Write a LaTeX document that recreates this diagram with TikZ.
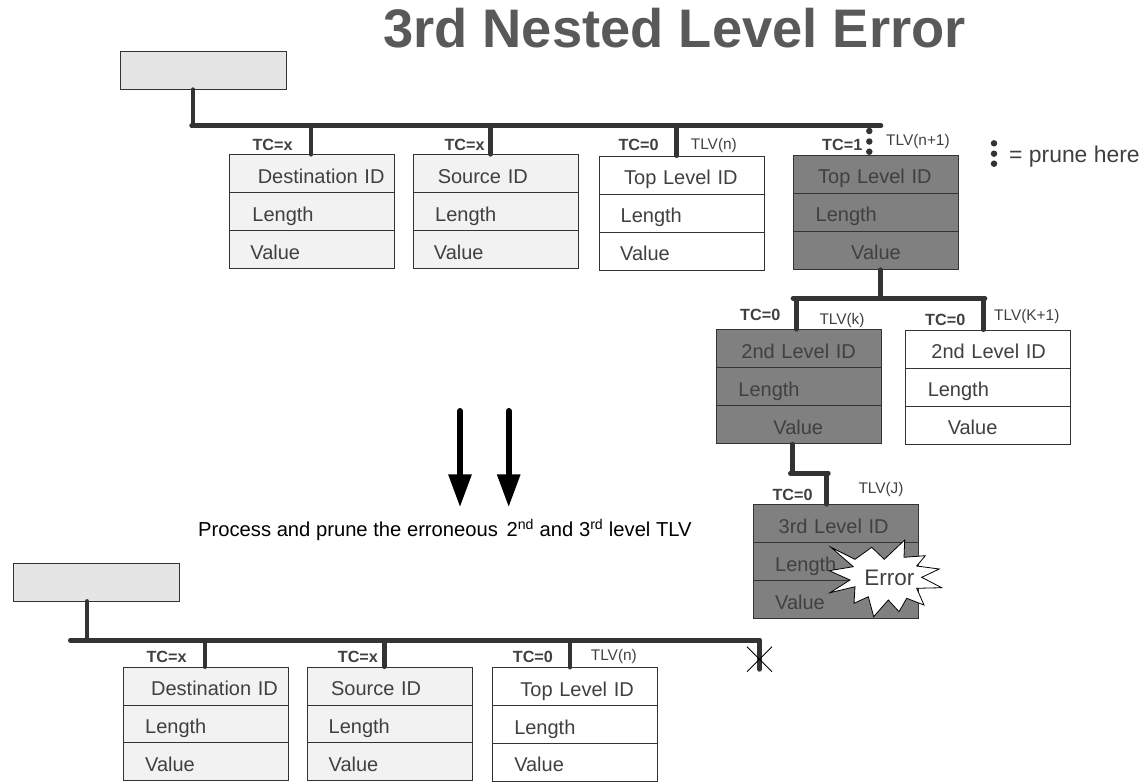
\documentclass[tikz,border=0pt]{standalone}
\usepackage{fontspec}
\setmainfont{Liberation Sans}
\usetikzlibrary{arrows.meta}
\definecolor{inkc}{HTML}{404040}
\definecolor{titlec}{HTML}{595959}
\definecolor{linec}{HTML}{333333}
\definecolor{lightc}{HTML}{F2F2F2}
\definecolor{headc}{HTML}{E5E5E5}
\definecolor{darkc}{HTML}{808080}
\begin{document}
\begin{tikzpicture}[x=1pt,y=-1pt,
    cell/.style={draw=linec,line width=0.9pt,anchor=north west,inner sep=0pt,
      text width=165pt,minimum height=38pt,align=left,text height=23pt,text depth=4pt,
      text=inkc,font=\fontsize{20}{24}\selectfont},
    tcnum/.style={anchor=base west,inner sep=0pt,text=inkc,font=\fontsize{16.2}{18}\selectfont\bfseries},
    tlvnum/.style={anchor=base west,inner sep=0pt,text=inkc,font=\fontsize{15.4}{18}\selectfont},
    headbox/.style={draw=linec,line width=0.9pt,fill=headc,anchor=north west,inner sep=0pt,
      minimum width=166pt,minimum height=38pt}]
        \useasboundingbox (0,0) rectangle (1144,782);
        \node[anchor=base west,inner sep=0pt,text=titlec,font=\fontsize{54.3}{60}\selectfont\bfseries] (title) at (383,47.5) {3rd Nested Level Error};
        \node[headbox] (ha) at (120,50.7) {};
        \node[headbox] (hb) at (13.3,562.5) {};
        \begin{scope}[every node/.style={cell,fill=lightc}]
          \node (a1) at (229.3,154.3) {\hspace*{28pt}Destination ID};
          \node (a2) at (229.3,192.3) {\hspace*{22.7pt}Length};
          \node (a3) at (229.3,230.3) {\hspace*{20.7pt}Value};
          \node (b1) at (412.7,154.3) {\hspace*{24.6pt}Source ID};
          \node (b2) at (412.7,192.3) {\hspace*{22pt}Length};
          \node (b3) at (412.7,230.3) {\hspace*{20.8pt}Value};
          \node (p1) at (122.7,666.7) {\hspace*{28pt}Destination ID};
          \node (p2) at (122.7,704.5) {\hspace*{22pt}Length};
          \node (p3) at (122.7,742.2) {\hspace*{22pt}Value};
          \node (q1) at (306.7,666.7) {\hspace*{24pt}Source ID};
          \node (q2) at (306.7,704.5) {\hspace*{21.5pt}Length};
          \node (q3) at (306.7,742.2) {\hspace*{21.5pt}Value};
        \end{scope}
        \begin{scope}[every node/.style={cell,fill=white}]
          \node (c1) at (598.7,155.7) {\hspace*{25pt}Top Level ID};
          \node (c2) at (598.7,193.5) {\hspace*{21.5pt}Length};
          \node (c3) at (598.7,231.5) {\hspace*{21pt}Value};
          \node (f1) at (905.3,329.7) {\hspace*{25.7pt}2nd Level ID};
          \node (f2) at (905.3,367.8) {\hspace*{22pt}Length};
          \node (f3) at (905.3,405.8) {\hspace*{42pt}Value};
          \node (r1) at (492.3,667.2) {\hspace*{27.7pt}Top Level ID};
          \node (r2) at (492.3,705.2) {\hspace*{21.5pt}Length};
          \node (r3) at (492.3,743) {\hspace*{21.5pt}Value};
        \end{scope}
        \begin{scope}[every node/.style={cell,fill=darkc}]
          \node (d1) at (792.7,154.7) {\hspace*{25pt}Top Level ID};
          \node (d2) at (792.7,192.7) {\hspace*{22.5pt}Length};
          \node (d3) at (792.7,230.8) {\hspace*{58pt}Value};
          \node (e1) at (716,329.3) {\hspace*{25pt}2nd Level ID};
          \node (e2) at (716,367.3) {\hspace*{22pt}Length};
          \node (e3) at (716,405.3) {\hspace*{57pt}Value};
          \node (g1) at (752.7,504.3) {\hspace*{25.5pt}3rd Level ID};
          \node (g2) at (752.7,542.3) {\hspace*{22pt}Length};
          \node (g3) at (752.7,580.3) {\hspace*{22pt}Value};
        \end{scope}
        \begin{scope}[every node/.style={tcnum}]
          \node (tca) at (252.3,150) {TC=x};
          \node (tcb) at (444.3,150) {TC=x};
          \node (tcc) at (618.3,150) {TC=0};
          \node (tcd) at (822,150) {TC=1};
          \node (tce) at (740,320) {TC=0};
          \node (tcf) at (925,325) {TC=0};
          \node (tcg) at (772.3,500) {TC=0};
          \node (tcp) at (146.3,662) {TC=x};
          \node (tcq) at (337.7,662) {TC=x};
          \node (tcr) at (512.7,662) {TC=0};
        \end{scope}
        \begin{scope}[every node/.style={tlvnum}]
          \node (tlvc) at (690.7,149.3) {TLV(n)};
          \node (tlvd) at (886,145) {TLV(n+1)};
          \node (tlve) at (819.3,324.3) {TLV(k)};
          \node (tlvf) at (994,320) {TLV(K+1)};
          \node (tlvg) at (858.3,493.3) {TLV(J)};
          \node (tlvr) at (590.7,660) {TLV(n)};
        \end{scope}
        \begin{scope}[every node/.style={circle,fill=linec,inner sep=0pt,minimum size=6.5pt}]
          \node (da) at (869.3,131) {};
          \node (db) at (869.3,141.5) {};
          \node (dc) at (869.3,151.7) {};
          \node (dd) at (994,143.3) {};
          \node (de) at (994,153.7) {};
          \node (df) at (994,163.7) {};
        \end{scope}
        \node[anchor=base west,inner sep=0pt,text=inkc,font=\fontsize{22.9}{26}\selectfont] (prune) at (1009,162.3) {= prune here};
        \coordinate (busaw) at (191.6,125.7);
        \coordinate (busae) at (881,125.7);
        \coordinate (busbw) at (793,298.3);
        \coordinate (busbe) at (985,298.3);
        \coordinate (buscw) at (790.3,473.3);
        \coordinate (busce) at (828.4,473.3);
        \coordinate (busdw) at (70.3,640.3);
        \coordinate (busde) at (759.5,640.3);
        \coordinate (endd) at (759.5,669.4);
        \coordinate (xa) at (747,646.7);
        \coordinate (xb) at (772,671.7);
        \begin{scope}[every edge/.style={draw=linec,line width=4.6pt,line cap=round}]
          \path (busaw) edge (busae);
          \path (busbw) edge (busbe);
          \path (buscw) edge (busce);
          \path (busdw) edge (busde);
          \path (busde) edge (endd);
          \path (193,125.7 |- ha.south) edge (193,125.7);
          \path (311,125.7) edge (311,154.3 |- a1.north);
          \path (490.7,125.7) edge (490.7,154.3 |- b1.north);
          \path (676.7,125.7) edge (676.7,154.3 |- c1.north);
          \path (880.3,269 |- d3.south) edge (880.3,298.3);
          \path (796.3,298.3) edge (796.3,329 |- e1.north);
          \path (983.3,298.3) edge (983.3,329 |- f1.north);
          \path (792.3,443 |- e3.south) edge (792.3,473.3);
          \path (826.7,473.3) edge (826.7,504 |- g1.north);
          \path (87,600 |- hb.south) edge (87,640.3);
          \path (205,640.3) edge (205,666 |- p1.north);
          \path (384.3,640.3) edge (384.3,666 |- q1.north);
          \path (570,640.3) edge (570,666 |- r1.north);
        \end{scope}
        \draw[black,line width=0.8pt] (xa) -- (xb) (xa |- xb) -- (xb |- xa);
        \draw[black,line width=0.8pt,fill=white] (831,547.3) -- (855,559.3) -- (871.7,547.3) -- (884.3,559.3)
          -- (904.7,540) -- (904,557.3) -- (925.3,555.7) -- (916.7,566) -- (939.3,569) -- (921.7,577.3)
          -- (941.7,587.7) -- (916.7,588.3) -- (924,605) -- (906.7,598.3) -- (899,611.7) -- (888.3,600)
          -- (873.7,616.7) -- (868.3,596.7) -- (854,603.3) -- (855,586.7) -- (830,592.7) -- (850,580)
          -- (829.3,570.7) -- (853.3,566.7) -- cycle;
        \node[inner sep=0pt,text=inkc,font=\fontsize{22.5}{26}\selectfont] (err) at (889.3,578) {Error};
        \coordinate (ara) at (460,411);
        \coordinate (arb) at (460,507.3);
        \coordinate (arc) at (508.7,411);
        \coordinate (ard) at (508.7,507.3);
        \begin{scope}[every edge/.style={draw=black,line width=6pt,line cap=round,-{Triangle[length=33pt,width=22pt]}}]
          \path (ara) edge (arb);
          \path (arc) edge (ard);
        \end{scope}
        \node[anchor=base west,inner sep=0pt,font=\fontsize{20.2}{24}\selectfont] (note) at (198,536.7) {Process and prune the erroneous\hspace{3pt} 2\textsuperscript{nd} and 3\textsuperscript{rd} level TLV};
\end{tikzpicture}
\end{document}
